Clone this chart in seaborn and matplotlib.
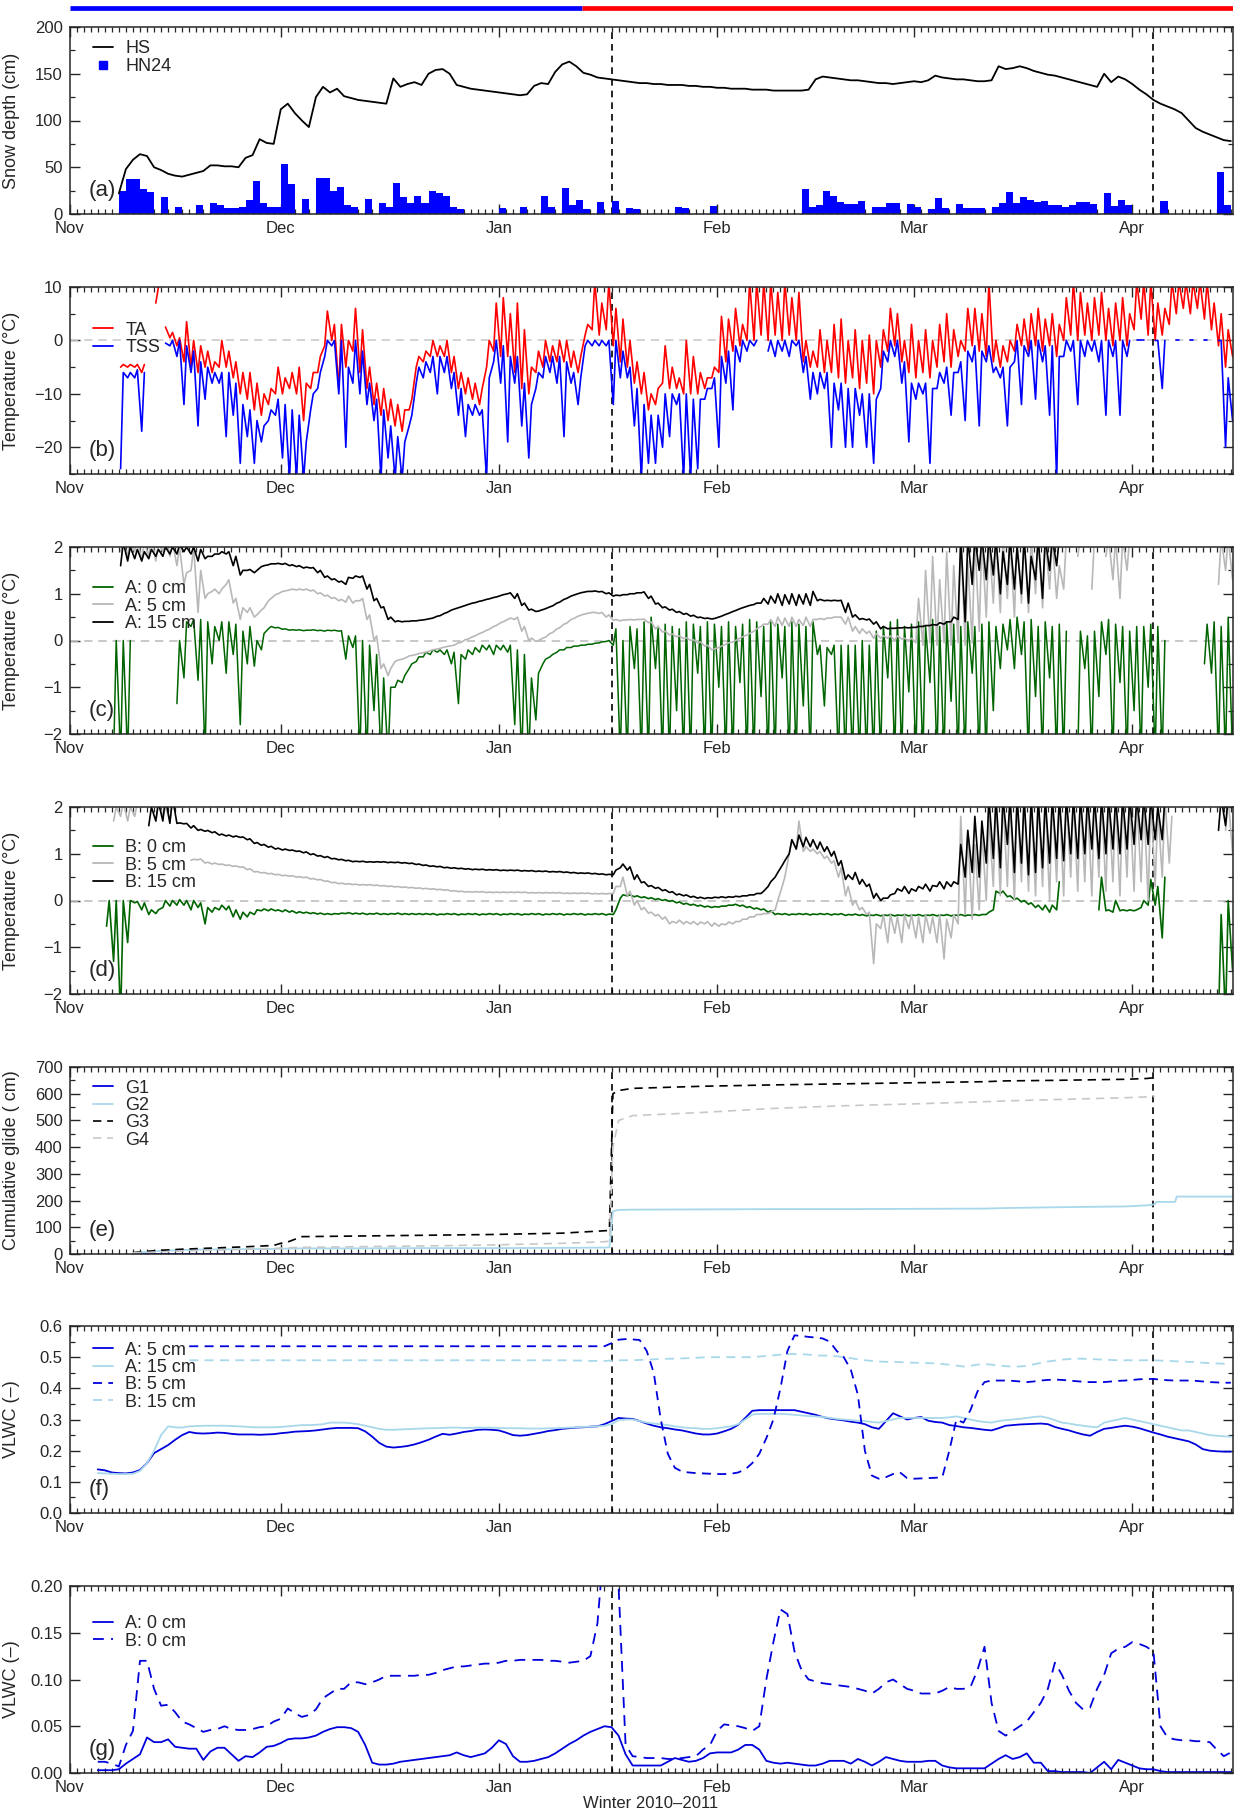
import numpy as np
import pandas as pd
import matplotlib
matplotlib.use('Agg')
import matplotlib.pyplot as plt
import matplotlib.dates as mdates
from matplotlib.ticker import MultipleLocator, FormatStrFormatter
from matplotlib.lines import Line2D
import seaborn as sns

n = np.nan

# daily values from 1 Nov 2010 (166 days, to 15 Apr 2011)
start = pd.Timestamp('2010-11-01')
days = start + pd.to_timedelta(np.arange(166), unit='D')

# top bar periods and the two marked dates
period_edges = ['2010-11-01 00:00', '2011-01-12 18:00', '2011-04-15 06:00']
period_colors = ['#0000ff', '#ff0000']
events = ['2011-01-17', '2011-04-04']

# (a) snow depth HS and 24 h new snow HN24 (cm)
hs = [n, n, n, n, n, n, n, 22, 48, 58,
      64, 62, 50, 47, 43, 41, 40, 42, 44, 46,
      52, 52, 51, 51, 50, 60, 63, 80, 76, 75,
      112, 118, 108, 100, 93, 125, 136, 130, 134, 126,
      124, 122, 121, 120, 119, 118, 145, 136, 139, 141,
      138, 150, 154, 155, 150, 138, 136, 134, 133, 132,
      131, 130, 129, 128, 127, 128, 137, 140, 139, 152,
      160, 163, 158, 151, 149, 146, 145, 144, 143, 142,
      141, 140, 140, 139, 139, 138, 138, 138, 137, 137,
      136, 136, 135, 135, 134, 134, 134, 133, 133, 133,
      132, 132, 132, 132, 132, 133, 144, 147, 146, 145,
      144, 143, 143, 142, 141, 140, 140, 139, 140, 141,
      142, 141, 143, 148, 146, 145, 144, 144, 143, 142,
      142, 143, 158, 155, 156, 158, 156, 153, 151, 149,
      148, 146, 144, 142, 140, 138, 136, 150, 141, 147,
      144, 139, 133, 128, 122, 118, 115, 112, 108, 100,
      92, 88, 85, 82, 79, 78]
hn24 = [0, 0, 0, 0, 0, 0, 0, 25, 37, 37,
        27, 23, 0, 18, 0, 8, 0, 0, 10, 0,
        12, 10, 6, 6, 7, 15, 35, 12, 8, 8,
        53, 32, 0, 16, 0, 38, 39, 25, 29, 10,
        8, 0, 16, 0, 12, 8, 33, 18, 12, 19,
        12, 25, 22, 19, 8, 5, 0, 0, 0, 0,
        0, 6, 0, 0, 7, 0, 0, 19, 8, 0,
        28, 10, 15, 5, 0, 13, 0, 14, 0, 6,
        5, 0, 0, 0, 0, 0, 8, 6, 0, 0,
        0, 9, 0, 0, 0, 0, 0, 0, 0, 0,
        0, 0, 0, 0, 27, 7, 10, 25, 19, 13,
        11, 11, 14, 0, 8, 7, 12, 12, 0, 11,
        8, 0, 5, 17, 6, 0, 11, 6, 6, 6,
        0, 8, 12, 24, 12, 18, 15, 13, 14, 10,
        10, 7, 10, 13, 13, 11, 0, 22, 9, 15,
        10, 0, 0, 0, 0, 14, 0, 0, 0, 0,
        0, 0, 0, 45, 10, 0]

# (b) air temperature TA and snow surface temperature TSS, daily low / high (degC)
ta_lo = [n, n, n, n, n, n, n, -5, -5, -5,
         -6, n, 7, n, 0.5, -1, -4, -5, -6, -5,
         -6, -5, -5, -7, -10, -11, -13, -14, -12, -10,
         -10, -9, -10, -15, -9, -6, -1, 0, -9, -5,
         -2, -6, -9, -12, -14, -15, -16, -17, -13, -5,
         -4, -3, -3, -3, -6, -9, -10, -11, -12, -5,
         -2, -3, -3, -6, -9, -10, -6, -5, -4, -4,
         -4, -5, -6, 1, 2, 1, 2, -1, -4, -5,
         -8, -10, -13, -12, -8, -9, -9, -10, -10, -10,
         -9, -7, -6, -4, -2, -1, 0, 0, 1, 0,
         1, 0, 1, 0, -4, -5, -5, -6, -6, -7,
         -8, -7, -9, -8, -10, -5, -2, -1, -4, -6,
         -7, -6, -7, -5, -4, -5, -3, -2, -1, -2,
         -3, -4, -5, -4, -2, -1, -2, -1, -2, -1,
         -3, 0, 1, 0, 1, 0, 1, 0, -1, 0,
         -1, 2, 4, 1, 0, 1, 3, 5, 6, 5,
         6, 4, 2, -1, -5, -3]
ta_hi = [n, n, n, n, n, n, n, -4.5, -4.5, -4.5,
         -4.5, n, 10, 2.5, 1.5, 0.5, 3.5, 0, -1, -2,
         -4, 0, -2, -4, -6, -6, -8, -10, -9, -5,
         -7, -6, -5, -8, -6, -3, 5.5, 3, 3, 0,
         6, 2, -5, -8, -9, -11, -12, -13, -11, -3,
         -2, 0, -1, 0, -3, -6, -7, -8, -9, 0,
         7, 8, 5, 7, 2, -5, -2, 0, -1, 0,
         0, -2, -3, 3, 11, 7, 11, 6, 4, 0,
         -4, -6, -10, -9, -1, -5, -7, 0, -3, -6,
         -7, -5, 4.5, 4, 6, 3, 11, 11, 11, 11,
         9, 11, 8, 9, 0, -2, 2, 0, 3, 4,
         0, 2, 0, 1, 0, 2, 6, 5, 0, 3,
         0, 2, 0, 3, 5, 2, 0, 6, 6, 5,
         11, 0, -1, 0, 3, 4, 5, 6, 4, 5,
         3, 8, 11, 9, 7, 8, 9, 6, 7, 8,
         5, 11, 11, 11, 7, 6, 11, 11, 11, 11,
         11, 11, 7, 5, 2, 0]
tss_lo = [n, n, n, n, n, n, n, -24, -7, -7,
          -17, n, n, n, -1, -3, -12, -6, -16, -11,
          -8, -8, -18, -14, -23, -18, -23, -19, -15, -14,
          -22, -26, -26, -26, -13, -9, -3, -1, -10, -20,
          -8, -10, -12, -15, -26, -22, -26, -26, -16, -8,
          -7, -6, -10, -6, -9, -14, -18, -14, -14, -26,
          -4, -8, -19, -8, -16, -22, -9, -7, -6, -8,
          -18, -8, -12, -1, -1, -1, -1, -12, -7, -7,
          -16, -26, -23, -23, -20, -18, -12, -26, -26, -24,
          -11, -9, -20, -8, -13, -4, -2, -1, n, -2,
          -3, -2, -3, -1, -6, -11, -10, -9, -20, -13,
          -20, -20, -14, -20, -23, -9, -4, -3, -8, -19,
          -11, -10, -23, -9, -8, -14, -6, -15, -4, -16,
          -4, -6, -7, -16, -4, -12, -3, -11, -4, -14,
          -26, -3, -2, -12, -3, -2, -4, -14, -3, -14,
          -3, n, 0, n, 0, -9, n, 0, n, 0,
          n, 0, n, 0, -20, -15]
tss_hi = [n, n, n, n, n, n, n, -6, -6, -5.5,
          -6, n, n, -0.5, 0, 0, -1, -2, -4, -5,
          -6, -6, -6, -8, -12, -13, -15, -16, -13, -11,
          -12, -13, -14, -19, -10, -6, 0, 0, 0, -5,
          0, -2, -8, -11, -13, -16, -18, -19, -14, -5,
          -4, -3, -3, -3, -6, -9, -12, -12, -13, -7,
          0, -1, -3, -3, -8, -12, -6, -3, -3, -3,
          -4, -6, -7, 0, 0, 0, 0, 0, -2, -5,
          -9, -12, -14, -14, -10, -10, -10, -10, -11, -11,
          -9, -7, -3, -2, -1, 0, 0, 0, n, 0,
          0, 0, 0, 0, -3, -6, -6, -6, -8, -8,
          -9, -9, -10, -10, -11, -2, 0, 0, -4, -8,
          -8, -8, -9, -6, -5, -6, -4, -2, -1, -2,
          -1, -5, -5, -5, 0, -1, 0, 0, -1, -1,
          -3, 0, 0, 0, 0, 0, 0, 0, 0, 0,
          0, 0, 0, n, 0, 0, n, 0, n, 0,
          n, 0, n, 0, -7, -5]

# (c) ground temperatures at site A, daily low / high (degC)
a0_lo = [n, n, n, n, n, n, -2.5, -2.5, -2.5, n,
         n, n, n, n, n, -1.35, -0.8, 0.3, -0.85, -2.5,
         -0.5, 0, -0.7, -0.3, -1.8, -0.5, -0.55, -0.2, 0.25, 0.27,
         0.24, 0.22, 0.22, 0.21, 0.22, 0.21, 0.2, 0.21, 0.2, -0.4,
         -0.15, -2.5, -2.5, -1.5, -2.5, -2.5, -1.0, -0.9, -0.6, -0.45,
         -0.35, -0.3, -0.25, -0.3, -0.5, -1.35, -0.4, -0.3, -0.25, -0.2,
         -0.3, -0.2, -0.25, -1.8, -2.5, -2.5, -1.7, -0.5, -0.35, -0.25,
         -0.2, -0.15, -0.12, -0.1, -0.08, -0.05, -0.02, -0.1, -2.5, -2.5,
         -0.6, -2.5, -2.5, -0.6, -2.5, -2.5, -1.5, -2.5, -2.5, -0.7,
         -2.5, -2.5, -1.0, -2.5, -2.5, -0.9, -2.5, -2.5, -1.2, -2.5,
         -2.5, -0.8, -2.5, -2.5, -1.4, -2.5, -0.3, -1.4, -0.3, -2.5,
         -2.5, -2.5, -2.5, -2.5, -2.5, -2.5, -0.8, -2.5, -2.5, -1.1,
         -2.5, -2.5, -0.9, -2.5, -2.5, -1.3, -2.5, -2.5, -0.7, -2.5,
         -2.5, -1.5, -0.6, -0.2, -0.6, -0.3, -2.5, -1.2, -2.5, -0.8,
         -2.5, -2.5, n, -2.5, -0.6, -2.5, -1.2, -0.3, -2.5, -0.9,
         -2.5, -1.5, -2.5, -1.0, -2.5, -2.5, n, n, n, n,
         n, -0.5, -0.7, -2.5, -2.5, -2.5]
a0_hi = [n, n, n, n, n, n, 0, 0, 0, n,
         n, n, n, n, n, 0, 0.4, 0.45, 0.45, 0.4,
         0.3, 0.4, 0.4, 0.35, 0.2, 0.3, 0, 0.15, 0.3, 0.28,
         0.25, 0.23, 0.23, 0.22, 0.23, 0.22, 0.22, 0.22, 0.21, 0.1,
         0.1, 0.0, -0.1, -0.3, -0.8, -1.0, -0.85, -0.75, -0.5, -0.35,
         -0.25, -0.2, -0.2, -0.2, -0.25, -0.3, -0.2, -0.15, -0.1, -0.1,
         -0.1, -0.1, -0.1, -0.2, -0.3, -0.8, -0.7, -0.4, -0.3, -0.2,
         -0.15, -0.12, -0.1, -0.08, -0.06, -0.03, 0.0, 0.25, 0.0, 0.3,
         0.25, 0.4, 0.5, 0.3, 0.35, 0.3, 0.25, 0.4, 0.35, 0.3,
         0.4, 0.35, 0.3, 0.4, 0.3, 0.35, 0.45, 0.4, 0.3, 0.4,
         0.35, 0.3, 0.4, 0.35, 0.3, 0.4, -0.1, -0.15, -0.1, -0.1,
         -0.1, -0.1, 0.0, -0.1, 0.2, 0.3, 0.4, 0.45, 0.3, 0.35,
         0.4, 0.3, 0.45, 0.3, 0.4, 0.35, 0.3, 0.4, 0.3, 0.35,
         0.4, 0.3, 0.35, 0.45, 0.5, 0.4, 0.45, 0.3, 0.4, 0.3,
         0.35, 0.2, n, 0.2, 0.1, 0.2, 0.4, 0.45, 0.35, 0.3,
         0.2, 0.3, 0.3, 0.35, 0.3, 0.0, n, n, n, n,
         n, 0.35, 0.4, 0.3, 0.5, 0.5]
a5_lo = [n, n, n, n, n, n, n, 1.9, 1.8, 1.9,
         1.7, 1.8, 1.7, 1.9, 1.8, 1.6, 1.2, 1.5, 0.6, 0.9,
         1.05, 1.0, 1.2, 0.8, 0.45, 0.6, 0.5, 0.65, 0.85, 0.98,
         1.05, 1.08, 1.08, 1.08, 1.06, 1.0, 0.95, 0.9, 0.85, 0.82,
         0.8, 0.85, 0.45, 0.0, -0.6, -0.75, -0.45, -0.4, -0.33, -0.3,
         -0.26, -0.22, -0.18, -0.14, -0.11, -0.05, 0.02, 0.08, 0.15, 0.22,
         0.3, 0.38, 0.45, 0.45, 0.2, 0.0, -0.02, 0.05, 0.15, 0.25,
         0.35, 0.45, 0.52, 0.57, 0.6, 0.58, 0.5, 0.43, 0.42, 0.44,
         0.44, 0.45, 0.38, 0.25, 0.18, 0.12, 0.08, 0.04, 0.0, -0.05,
         -0.12, -0.2, -0.15, -0.08, -0.03, 0.05, 0.12, 0.2, 0.3, 0.35,
         0.3, 0.32, 0.3, 0.3, 0.32, 0.3, 0.45, 0.45, 0.48, 0.5,
         0.35, 0.2, 0.15, 0.15, 0.05, 0.05, 0.05, 0.0, 0.03, 0.0,
         -0.05, -0.1, -0.05, -0.1, -0.05, -0.1, -0.05, -0.1, -0.05, 0.2,
         0.5, 0.8, 0.6, 0.9, 0.5, 0.8, 0.6, 1.0, 0.7, 1.1,
         0.9, 1.1, n, 1.8, n, 1.1, n, 1.8, 1.3, 0.9,
         1.5, n, n, n, n, n, n, n, n, n,
         n, n, n, 1.2, 1.5, 1.3]
a5_hi = [n, n, n, n, n, n, n, 2.1, 2.1, 2.2,
         2.1, 2.2, 2.1, 2.2, 2.1, 2.0, 1.45, 2.0, 1.5, 1.0,
         1.1, 1.1, 1.3, 0.9, 0.7, 0.7, 0.55, 0.7, 0.9, 1.0,
         1.06, 1.1, 1.1, 1.1, 1.08, 1.02, 0.97, 0.92, 0.88, 0.95,
         0.85, 0.9, 0.55, 0.1, -0.5, -0.6, -0.42, -0.38, -0.32, -0.28,
         -0.25, -0.2, -0.17, -0.13, -0.1, -0.04, 0.03, 0.1, 0.17, 0.24,
         0.32, 0.4, 0.48, 0.5, 0.3, 0.05, 0.0, 0.07, 0.17, 0.27,
         0.37, 0.47, 0.54, 0.58, 0.6, 0.6, 0.55, 0.45, 0.44, 0.45,
         0.45, 0.46, 0.4, 0.3, 0.2, 0.14, 0.1, 0.06, 0.02, -0.03,
         -0.1, -0.18, -0.12, -0.05, 0.0, 0.08, 0.15, 0.25, 0.35, 0.45,
         0.5, 0.48, 0.5, 0.45, 0.5, 0.45, 0.47, 0.48, 0.5, 0.5,
         0.5, 0.3, 0.25, 0.2, 0.15, 0.1, 0.1, 0.1, 0.05, 0.05,
         0.9, 1.5, 1.8, 1.3, 1.9, 1.6, 2.2, 1.7, 2.2, 2.2,
         2.2, 2.2, 2.2, 2.2, 2.2, 2.2, 2.2, 2.2, 2.2, 2.2,
         1.6, 2.2, n, 2.2, n, 2.2, n, 2.2, 2.2, 2.2,
         2.2, n, n, n, n, n, n, n, n, n,
         n, n, n, 2.2, 2.2, 2.2]
a15_lo = [n, n, n, n, n, n, n, 1.6, 1.7, 1.75,
          1.7, 1.75, 1.8, 1.8, 1.85, 1.85, 1.9, 1.85, 1.7, 1.75,
          1.8, 1.85, 1.85, 1.6, 1.4, 1.5, 1.45, 1.58, 1.62, 1.64,
          1.63, 1.6, 1.58, 1.55, 1.55, 1.45, 1.35, 1.3, 1.25, 1.2,
          1.33, 1.35, 1.1, 0.85, 0.7, 0.45, 0.4, 0.4, 0.41, 0.42,
          0.44, 0.47, 0.52, 0.58, 0.65, 0.7, 0.75, 0.8, 0.84, 0.88,
          0.92, 0.96, 1.0, 0.9, 0.75, 0.65, 0.62, 0.66, 0.72, 0.8,
          0.88, 0.95, 1.0, 1.04, 1.05, 1.04, 1.0, 0.95, 0.96, 0.98,
          1.0, 1.02, 0.9, 0.78, 0.7, 0.65, 0.6, 0.56, 0.52, 0.49,
          0.47, 0.46, 0.5, 0.56, 0.62, 0.68, 0.73, 0.77, 0.8, 0.78,
          0.8, 0.75, 0.78, 0.75, 0.78, 0.75, 0.85, 0.85, 0.85, 0.85,
          0.6, 0.5, 0.45, 0.44, 0.35, 0.25, 0.25, 0.26, 0.27, 0.27,
          0.28, 0.3, 0.32, 0.33, 0.35, 0.4, 0.45, 0.4, 1.2, 1.5,
          1.3, 1.4, 1.0, 1.2, 1.1, 1.0, 0.8, 1.3, 0.9, 1.5,
          1.6, n, n, n, n, n, n, n, n, n,
          n, n, n, n, n, n, n, n, n, n,
          n, n, n, n, n, n]
a15_hi = [n, n, n, n, n, n, n, 2.1, 2.0, 1.95,
          1.9, 1.95, 1.95, 2.0, 2.0, 2.05, 2.0, 2.0, 1.95, 1.8,
          1.85, 1.9, 1.9, 1.8, 1.5, 1.52, 1.5, 1.6, 1.64, 1.65,
          1.65, 1.62, 1.6, 1.57, 1.56, 1.5, 1.38, 1.32, 1.27, 1.35,
          1.38, 1.38, 1.2, 0.9, 0.72, 0.5, 0.42, 0.41, 0.42, 0.43,
          0.45, 0.48, 0.53, 0.6, 0.67, 0.72, 0.77, 0.81, 0.85, 0.89,
          0.93, 0.98, 1.02, 1.0, 0.8, 0.67, 0.63, 0.68, 0.74, 0.82,
          0.9, 0.97, 1.02, 1.05, 1.06, 1.05, 1.02, 0.97, 0.98, 1.0,
          1.02, 1.04, 0.95, 0.8, 0.72, 0.67, 0.62, 0.58, 0.54, 0.5,
          0.48, 0.47, 0.52, 0.58, 0.64, 0.7, 0.75, 0.8, 0.9, 0.95,
          1.0, 0.98, 1.0, 0.98, 1.0, 1.05, 0.88, 0.86, 0.86, 0.86,
          0.8, 0.55, 0.47, 0.46, 0.4, 0.3, 0.26, 0.27, 0.28, 0.28,
          0.3, 0.32, 0.34, 0.38, 0.4, 0.5, 2.2, 2.2, 2.2, 2.2,
          2.2, 2.2, 1.9, 2.2, 2.0, 2.2, 1.8, 2.2, 2.2, 2.2,
          2.2, n, n, n, n, n, n, n, n, n,
          n, n, n, n, n, n, n, n, n, n,
          n, n, n, n, n, n]

# (d) ground temperatures at site B, daily low / high (degC)
b0_lo = [n, n, n, n, n, -0.55, -1.3, -2.5, -0.9, -0.05,
         -0.2, -0.3, -0.28, -0.15, -0.12, -0.1, -0.1, -0.2, -0.15, -0.5,
         -0.25, -0.2, -0.2, -0.35, -0.4, -0.35, -0.3, -0.22, -0.22, -0.22,
         -0.24, -0.25, -0.27, -0.27, -0.28, -0.29, -0.3, -0.3, -0.29, -0.28,
         -0.29, -0.29, -0.3, -0.29, -0.3, -0.3, -0.29, -0.3, -0.3, -0.3,
         -0.3, -0.3, -0.31, -0.3, -0.3, -0.31, -0.3, -0.3, -0.31, -0.3,
         -0.3, -0.31, -0.3, -0.3, -0.31, -0.3, -0.3, -0.31, -0.3, -0.3,
         -0.31, -0.3, -0.3, -0.31, -0.3, -0.3, -0.31, -0.3, 0.05, 0.1,
         0.08, 0.06, 0.04, 0.02, 0.0, -0.02, -0.05, -0.08, -0.1, -0.12,
         -0.14, -0.15, -0.14, -0.12, -0.1, -0.12, -0.15, -0.18, -0.2, -0.25,
         -0.3, -0.3, -0.31, -0.3, -0.3, -0.31, -0.3, -0.3, -0.31, -0.3,
         -0.32, -0.31, -0.32, -0.33, -0.32, -0.33, -0.32, -0.33, -0.32, -0.33,
         -0.32, -0.33, -0.32, -0.33, -0.32, -0.33, -0.32, -0.33, -0.32, -0.32,
         -0.3, -0.2, 0.15, 0.08, 0.02, -0.03, -0.08, -0.15, -0.2, -0.25,
         -0.2, n, n, n, n, n, -0.2, -0.22, -0.25, -0.22,
         -0.22, -0.22, -0.15, -0.1, -0.1, -0.8, n, n, n, n,
         n, n, n, -2.5, -2.5, -1.5]
b0_hi = [n, n, n, n, n, 0.0, 0.0, 0.0, 0.0, -0.02,
         -0.05, -0.2, -0.2, 0.0, 0.0, 0.02, 0.0, 0.0, -0.05, -0.15,
         -0.15, -0.1, -0.12, -0.2, -0.25, -0.25, -0.2, -0.18, -0.18, -0.2,
         -0.2, -0.22, -0.24, -0.25, -0.26, -0.27, -0.28, -0.28, -0.27, -0.26,
         -0.27, -0.27, -0.28, -0.27, -0.28, -0.28, -0.27, -0.28, -0.28, -0.28,
         -0.28, -0.28, -0.29, -0.28, -0.28, -0.29, -0.28, -0.28, -0.29, -0.28,
         -0.28, -0.29, -0.28, -0.28, -0.29, -0.28, -0.28, -0.29, -0.28, -0.28,
         -0.29, -0.28, -0.28, -0.29, -0.28, -0.28, -0.29, -0.2, 0.12, 0.12,
         0.1, 0.08, 0.06, 0.04, 0.02, 0.0, -0.03, -0.06, -0.08, -0.1,
         -0.12, -0.13, -0.12, -0.1, -0.08, -0.1, -0.13, -0.16, -0.18, -0.22,
         -0.28, -0.28, -0.29, -0.28, -0.28, -0.29, -0.28, -0.28, -0.29, -0.28,
         -0.3, -0.29, -0.3, -0.31, -0.3, -0.31, -0.3, -0.31, -0.3, -0.31,
         -0.3, -0.31, -0.3, -0.31, -0.3, -0.31, -0.3, -0.31, -0.3, -0.3,
         -0.25, 0.2, 0.2, 0.1, 0.05, 0.0, -0.05, -0.1, -0.1, -0.1,
         0.4, n, n, n, n, n, 0.5, -0.2, 0.0, -0.2,
         -0.2, -0.2, 0.0, 0.45, 0.3, 0.5, n, n, n, n,
         n, n, n, -0.3, 0.0, 0.0]
b5_lo = [n, n, n, n, n, n, 1.7, 1.8, 1.7, 1.8,
         n, n, 1.7, 1.8, 1.7, n, n, 0.86, 0.87, 0.8,
         0.78, 0.77, 0.75, 0.73, 0.71, 0.66, 0.61, 0.59, 0.57, 0.55,
         0.53, 0.52, 0.5, 0.49, 0.46, 0.44, 0.41, 0.38, 0.36, 0.35,
         0.34, 0.33, 0.33, 0.32, 0.31, 0.3, 0.29, 0.28, 0.27, 0.26,
         0.25, 0.24, 0.23, 0.22, 0.2, 0.19, 0.18, 0.18, 0.18, 0.17,
         0.17, 0.17, 0.17, 0.17, 0.17, 0.16, 0.16, 0.16, 0.16, 0.16,
         0.15, 0.15, 0.15, 0.15, 0.14, 0.14, 0.14, 0.15, 0.3, 0.1,
         -0.1, -0.2, -0.27, -0.33, -0.4, -0.5, -0.48, -0.5, -0.5, -0.52,
         -0.5, -0.55, -0.55, -0.52, -0.5, -0.45, -0.4, -0.35, -0.3, -0.28,
         -0.2, 0.3, 1.0, 1.1, 1.05, 1.05, 1.0, 0.9, 0.8, 0.5,
         0.1, -0.1, -0.2, -0.3, -1.35, -0.6, -0.9, -0.7, -0.9, -0.6,
         -0.8, -0.9, -0.7, -0.9, -1.25, -0.8, -0.5, -0.3, -0.4, -0.2,
         0.0, 0.3, 0.1, 0.3, 0.0, 0.4, 0.2, 0.1, 0.3, 0.0,
         0.4, 0.1, 0.5, 0.2, 0.4, 0.1, 0.5, 0.2, 0.4, 0.1,
         0.5, 0.2, 0.4, 0.0, 0.3, 0.5, 0.8, n, n, n,
         n, n, n, n, 1.5, 1.0]
b5_hi = [n, n, n, n, n, n, 2.0, 2.1, 2.0, 2.1,
         n, n, 2.1, 2.0, 2.1, n, n, 0.88, 0.89, 0.82,
         0.8, 0.78, 0.76, 0.74, 0.72, 0.68, 0.62, 0.6, 0.58, 0.56,
         0.54, 0.53, 0.51, 0.5, 0.47, 0.45, 0.42, 0.39, 0.37, 0.36,
         0.35, 0.34, 0.34, 0.33, 0.32, 0.31, 0.3, 0.29, 0.28, 0.27,
         0.26, 0.25, 0.24, 0.23, 0.21, 0.2, 0.19, 0.19, 0.19, 0.18,
         0.18, 0.18, 0.18, 0.18, 0.18, 0.17, 0.17, 0.17, 0.17, 0.17,
         0.16, 0.16, 0.16, 0.16, 0.15, 0.15, 0.15, 0.3, 0.5, 0.2,
         0.0, -0.15, -0.25, -0.3, -0.35, -0.45, -0.42, -0.45, -0.45, -0.46,
         -0.45, -0.48, -0.5, -0.46, -0.45, -0.4, -0.35, -0.3, -0.28, -0.25,
         0.0, 0.5, 1.3, 1.7, 1.15, 1.1, 1.05, 0.95, 0.85, 0.7,
         0.3, 0.0, -0.15, -0.25, -0.5, -0.3, -0.3, -0.35, -0.3, -0.3,
         -0.35, -0.3, -0.35, -0.3, -0.4, -0.3, 1.8, 1.5, 1.2, 1.5,
         1.8, 2.2, 2.2, 2.2, 2.2, 2.2, 2.2, 2.2, 2.2, 2.2,
         2.2, 2.2, 2.2, 2.2, 2.2, 2.2, 2.2, 2.2, 2.2, 2.2,
         2.2, 2.2, 2.2, 2.2, 2.0, 2.2, 1.8, n, n, n,
         n, n, n, n, 2.2, 2.2]
b15_lo = [n, n, n, n, n, n, n, n, n, n,
          n, 1.6, 1.7, 1.7, 1.65, 1.65, 1.64, 1.55, 1.5, 1.48,
          1.45, 1.4, 1.38, 1.36, 1.35, 1.3, 1.22, 1.18, 1.14, 1.1,
          1.08, 1.07, 1.05, 1.02, 0.98, 0.95, 0.92, 0.89, 0.87, 0.85,
          0.83, 0.83, 0.82, 0.82, 0.82, 0.81, 0.81, 0.8, 0.79, 0.77,
          0.75, 0.73, 0.72, 0.7, 0.69, 0.68, 0.67, 0.66, 0.66, 0.65,
          0.65, 0.64, 0.64, 0.64, 0.63, 0.63, 0.62, 0.62, 0.61, 0.61,
          0.6, 0.59, 0.58, 0.58, 0.57, 0.56, 0.55, 0.55, 0.7, 0.65,
          0.45, 0.38, 0.3, 0.26, 0.21, 0.17, 0.12, 0.1, 0.07, 0.05,
          0.04, 0.05, 0.06, 0.06, 0.07, 0.08, 0.1, 0.12, 0.15, 0.3,
          0.5, 0.75, 1.0, 1.1, 1.15, 1.15, 1.1, 1.05, 0.95, 0.75,
          0.45, 0.45, 0.35, 0.3, 0.05, 0.0, 0.05, 0.15, 0.2, 0.15,
          0.2, 0.25, 0.2, 0.3, 0.25, 0.3, 0.35, 0.5, 0.6, 0.5,
          0.8, 0.9, 0.7, 1.2, 0.6, 0.8, 0.55, 0.6, 0.7, 0.8,
          0.9, 0.85, 1.0, 0.9, 1.0, 1.1, 0.9, 1.0, 1.1, 1.0,
          1.1, 1.2, 1.3, 1.2, 1.3, 1.3, n, n, n, n,
          n, n, n, 1.5, 1.6, n]
b15_hi = [n, n, n, n, n, n, n, n, n, n,
          n, 2.0, 2.1, 2.2, 2.2, 1.66, 1.65, 1.6, 1.52, 1.5,
          1.47, 1.42, 1.4, 1.38, 1.36, 1.32, 1.24, 1.2, 1.16, 1.12,
          1.1, 1.08, 1.06, 1.04, 1.0, 0.96, 0.94, 0.9, 0.88, 0.86,
          0.84, 0.84, 0.83, 0.83, 0.83, 0.82, 0.82, 0.81, 0.8, 0.78,
          0.76, 0.74, 0.73, 0.71, 0.7, 0.69, 0.68, 0.67, 0.67, 0.66,
          0.66, 0.65, 0.65, 0.65, 0.64, 0.64, 0.63, 0.63, 0.62, 0.62,
          0.61, 0.6, 0.59, 0.59, 0.58, 0.57, 0.56, 0.65, 0.78, 0.72,
          0.55, 0.4, 0.32, 0.28, 0.23, 0.19, 0.14, 0.12, 0.09, 0.07,
          0.06, 0.07, 0.08, 0.08, 0.09, 0.1, 0.12, 0.15, 0.2, 0.4,
          0.6, 0.85, 1.3, 1.4, 1.35, 1.3, 1.25, 1.15, 1.05, 0.85,
          0.55, 0.6, 0.45, 0.35, 0.15, 0.05, 0.12, 0.25, 0.3, 0.25,
          0.3, 0.35, 0.32, 0.4, 0.4, 0.4, 1.2, 1.5, 1.8, 1.7,
          2.2, 2.2, 2.2, 2.2, 2.2, 2.2, 2.2, 2.2, 2.2, 2.2,
          2.2, 2.2, 2.2, 2.2, 2.2, 2.2, 2.2, 2.2, 2.2, 2.2,
          2.2, 2.2, 2.2, 2.2, 2.0, 2.2, n, n, n, n,
          n, n, n, 2.2, 2.2, n]

# (e) cumulative glide (cm), read at these days after 1 Nov
glide_days = [9, 11, 13, 16, 20, 25, 29, 30, 31, 32,
              33, 40, 50, 60, 70, 76, 76.7, 77.2, 78, 80,
              90, 100, 110, 120, 130, 133, 140, 150, 153, 154.2,
              154.4, 157.1, 157.3, 165.3]
g1 = [0, 0, 0, 0, 0, 0, 0, 0, 0, 0,
      0, 0, 0, 0, 0, 0, 0, 0, 0, 0,
      0, 0, 0, 0, 0, 0, 0, 0, 0, 0,
      0, 0, 0, 0]
g2 = [3, 8, 12, 15, 17, 18, 19, 20, 20, 21,
      21, 21, 22, 22, 23, 24, 25, 160, 165, 166,
      167, 168, 168, 169, 170, 172, 175, 178, 182, 186,
      195, 195, 215, 215]
g3 = [5, 10, 14, 18, 22, 27, 32, 40, 45, 55,
      65, 67, 70, 73, 78, 87, 88, 600, 612, 620,
      628, 633, 637, 641, 645, 648, 650, 654, 657, 660,
      n, n, n, n]
g4 = [4, 6, 8, 11, 14, 18, 21, 22, 23, 24,
      25, 27, 30, 34, 40, 46, 48, 400, 500, 518,
      530, 545, 555, 562, 570, 573, 578, 585, 588, 590,
      n, n, n, n]

# (f) VLWC at 5 and 15 cm, sites A and B (daily)
fa5 = [n, n, n, n, 0.14, 0.137, 0.13, 0.128, 0.127, 0.13,
       0.138, 0.16, 0.192, 0.205, 0.218, 0.235, 0.25, 0.26, 0.256, 0.255,
       0.256, 0.258, 0.257, 0.254, 0.252, 0.252, 0.252, 0.251, 0.252, 0.253,
       0.256, 0.258, 0.261, 0.262, 0.263, 0.265, 0.268, 0.271, 0.273, 0.273,
       0.273, 0.272, 0.262, 0.245, 0.225, 0.213, 0.21, 0.212, 0.215, 0.22,
       0.227, 0.235, 0.245, 0.254, 0.251, 0.255, 0.26, 0.263, 0.267, 0.268,
       0.267, 0.265, 0.258, 0.25, 0.248, 0.25, 0.254, 0.258, 0.263, 0.266,
       0.27, 0.272, 0.274, 0.275, 0.277, 0.278, 0.285, 0.295, 0.305, 0.303,
       0.302, 0.295, 0.287, 0.28, 0.275, 0.272, 0.268, 0.265, 0.26, 0.255,
       0.252, 0.252, 0.255, 0.262, 0.27, 0.283, 0.305, 0.328, 0.33, 0.33,
       0.33, 0.33, 0.33, 0.33, 0.325, 0.32, 0.315, 0.308, 0.303, 0.3,
       0.297, 0.293, 0.29, 0.285, 0.275, 0.27, 0.295, 0.32, 0.31, 0.3,
       0.305, 0.308, 0.296, 0.292, 0.29, 0.282, 0.279, 0.275, 0.273, 0.27,
       0.267, 0.265, 0.272, 0.28, 0.282, 0.284, 0.285, 0.286, 0.287, 0.285,
       0.276, 0.27, 0.265, 0.258, 0.252, 0.248, 0.26, 0.27, 0.273, 0.277,
       0.28, 0.277, 0.272, 0.265, 0.258, 0.252, 0.245, 0.24, 0.235, 0.23,
       0.22, 0.205, 0.2, 0.198, 0.197, 0.197]
fa15 = [n, n, n, n, 0.128, 0.127, 0.126, 0.125, 0.125, 0.126,
        0.135, 0.16, 0.2, 0.25, 0.278, 0.275, 0.274, 0.278, 0.279, 0.28,
        0.28, 0.28, 0.28, 0.279, 0.278, 0.277, 0.275, 0.275, 0.275, 0.275,
        0.276, 0.278, 0.28, 0.282, 0.282, 0.283, 0.285, 0.29, 0.29, 0.29,
        0.288, 0.285, 0.28, 0.275, 0.27, 0.267, 0.267, 0.268, 0.269, 0.27,
        0.271, 0.272, 0.272, 0.273, 0.274, 0.274, 0.273, 0.273, 0.274, 0.274,
        0.274, 0.273, 0.272, 0.272, 0.272, 0.271, 0.271, 0.271, 0.272, 0.272,
        0.273, 0.274, 0.275, 0.276, 0.277, 0.278, 0.28, 0.285, 0.298, 0.3,
        0.3, 0.295, 0.29, 0.287, 0.285, 0.282, 0.278, 0.275, 0.273, 0.272,
        0.27, 0.27, 0.272, 0.275, 0.278, 0.285, 0.3, 0.316, 0.318, 0.318,
        0.318, 0.318, 0.317, 0.315, 0.313, 0.311, 0.31, 0.308, 0.305, 0.302,
        0.3, 0.298, 0.296, 0.295, 0.292, 0.29, 0.295, 0.3, 0.305, 0.305,
        0.305, 0.305, 0.305, 0.305, 0.305, 0.307, 0.31, 0.305, 0.3, 0.295,
        0.292, 0.29, 0.295, 0.298, 0.3, 0.302, 0.305, 0.308, 0.31, 0.305,
        0.298, 0.29, 0.287, 0.283, 0.28, 0.277, 0.275, 0.29, 0.295, 0.3,
        0.305, 0.3, 0.295, 0.29, 0.285, 0.28, 0.275, 0.27, 0.265, 0.265,
        0.26, 0.255, 0.25, 0.248, 0.246, 0.245]
fb5 = [n, n, n, n, n, n, n, n, n, n,
       n, n, n, n, n, n, n, 0.535, 0.535, 0.535,
       0.535, 0.535, 0.535, 0.535, 0.535, 0.535, 0.535, 0.535, 0.535, 0.535,
       0.535, 0.535, 0.535, 0.535, 0.535, 0.535, 0.535, 0.535, 0.535, 0.535,
       0.535, 0.535, 0.535, 0.535, 0.535, 0.535, 0.535, 0.535, 0.535, 0.535,
       0.535, 0.535, 0.535, 0.535, 0.535, 0.535, 0.535, 0.535, 0.535, 0.535,
       0.535, 0.535, 0.535, 0.535, 0.535, 0.535, 0.535, 0.535, 0.535, 0.535,
       0.535, 0.535, 0.535, 0.535, 0.535, 0.535, 0.535, 0.545, 0.556, 0.558,
       0.557, 0.555, 0.52, 0.45, 0.3, 0.19, 0.145, 0.133, 0.13, 0.128,
       0.127, 0.126, 0.125, 0.125, 0.126, 0.13, 0.14, 0.16, 0.19, 0.24,
       0.3, 0.4, 0.52, 0.57, 0.568, 0.565, 0.563, 0.56, 0.55, 0.52,
       0.5, 0.46, 0.38, 0.2, 0.12, 0.11, 0.115, 0.125, 0.13, 0.112,
       0.11, 0.111, 0.112, 0.113, 0.115, 0.2, 0.3, 0.29, 0.33, 0.39,
       0.42, 0.425, 0.425, 0.425, 0.424, 0.422, 0.42, 0.422, 0.425, 0.427,
       0.428, 0.427, 0.425, 0.423, 0.421, 0.42, 0.42, 0.42, 0.422, 0.424,
       0.425, 0.427, 0.429, 0.43, 0.43, 0.428, 0.426, 0.425, 0.425, 0.425,
       0.424, 0.422, 0.42, 0.419, 0.418, 0.418]
fb15 = [n, n, n, n, n, n, n, n, n, n,
        n, n, n, n, n, n, n, 0.49, 0.49, 0.49,
        0.49, 0.49, 0.49, 0.49, 0.49, 0.49, 0.49, 0.49, 0.49, 0.49,
        0.49, 0.49, 0.49, 0.49, 0.49, 0.49, 0.49, 0.49, 0.49, 0.49,
        0.49, 0.49, 0.49, 0.49, 0.49, 0.49, 0.49, 0.49, 0.49, 0.49,
        0.49, 0.49, 0.49, 0.49, 0.49, 0.49, 0.49, 0.49, 0.49, 0.49,
        0.49, 0.49, 0.49, 0.49, 0.49, 0.49, 0.49, 0.49, 0.49, 0.49,
        0.49, 0.49, 0.489, 0.489, 0.488, 0.488, 0.488, 0.489, 0.49, 0.49,
        0.49, 0.491, 0.492, 0.493, 0.494, 0.495, 0.495, 0.496, 0.497, 0.498,
        0.499, 0.5, 0.5, 0.5, 0.5, 0.5, 0.5, 0.5, 0.502, 0.504,
        0.506, 0.508, 0.51, 0.51, 0.51, 0.508, 0.506, 0.505, 0.505, 0.503,
        0.5, 0.497, 0.493, 0.49, 0.488, 0.486, 0.485, 0.485, 0.484, 0.483,
        0.482, 0.482, 0.481, 0.48, 0.478, 0.476, 0.473, 0.47, 0.472, 0.476,
        0.478, 0.476, 0.473, 0.471, 0.47, 0.47, 0.472, 0.477, 0.482, 0.486,
        0.489, 0.492, 0.494, 0.495, 0.495, 0.494, 0.493, 0.492, 0.491, 0.49,
        0.49, 0.49, 0.49, 0.49, 0.49, 0.489, 0.488, 0.487, 0.486, 0.485,
        0.484, 0.482, 0.481, 0.48, 0.479, 0.478]

# (g) VLWC at 0 cm, sites A and B (daily)
ga0 = [n, n, n, n, 0.003, 0.003, 0.003, 0.004, 0.01, 0.015,
       0.02, 0.038, 0.033, 0.033, 0.036, 0.028, 0.027, 0.026, 0.026, 0.014,
       0.023, 0.027, 0.027, 0.02, 0.013, 0.018, 0.017, 0.022, 0.028, 0.029,
       0.032, 0.036, 0.037, 0.037, 0.038, 0.04, 0.044, 0.047, 0.049, 0.049,
       0.048, 0.044, 0.03, 0.011, 0.009, 0.009, 0.01, 0.012, 0.013, 0.014,
       0.015, 0.016, 0.017, 0.018, 0.019, 0.022, 0.019, 0.017, 0.019, 0.021,
       0.027, 0.035, 0.031, 0.018, 0.012, 0.012, 0.013, 0.015, 0.017, 0.021,
       0.026, 0.031, 0.035, 0.04, 0.044, 0.047, 0.05, 0.049, 0.04, 0.02,
       0.008, 0.008, 0.008, 0.008, 0.008, 0.012, 0.016, 0.014, 0.012, 0.013,
       0.016, 0.021, 0.022, 0.022, 0.022, 0.025, 0.03, 0.03, 0.025, 0.013,
       0.011, 0.01, 0.011, 0.01, 0.009, 0.008, 0.008, 0.01, 0.013, 0.013,
       0.013, 0.01, 0.015, 0.012, 0.008, 0.012, 0.017, 0.015, 0.013, 0.012,
       0.012, 0.012, 0.013, 0.013, 0.008, 0.006, 0.005, 0.005, 0.005, 0.005,
       0.005, 0.01, 0.015, 0.019, 0.015, 0.017, 0.021, 0.011, 0.011, 0.002,
       0.002, 0.001, 0.001, 0.001, 0.001, 0.0, 0.006, 0.012, 0.004, 0.014,
       0.011, 0.008, 0.005, 0.004, 0.004, 0.002, 0.001, 0.001, 0.001, 0.001,
       0.001, 0.001, 0.001, 0.001, 0.001, 0.001]
gb0 = [n, n, n, n, 0.012, 0.012, 0.01, 0.007, 0.03, 0.045,
       0.12, 0.12, 0.09, 0.072, 0.073, 0.065, 0.055, 0.052, 0.048, 0.044,
       0.046, 0.047, 0.05, 0.047, 0.046, 0.046, 0.047, 0.049, 0.05, 0.055,
       0.058, 0.069, 0.064, 0.06, 0.062, 0.068, 0.08, 0.085, 0.09, 0.09,
       0.097, 0.097, 0.095, 0.097, 0.1, 0.104, 0.104, 0.104, 0.104, 0.104,
       0.105, 0.105, 0.107, 0.11, 0.112, 0.114, 0.114, 0.115, 0.116, 0.117,
       0.117, 0.118, 0.12, 0.12, 0.121, 0.121, 0.121, 0.121, 0.12, 0.12,
       0.119, 0.118, 0.119, 0.12, 0.125, 0.16, 0.25, 0.25, 0.2, 0.03,
       0.018, 0.017, 0.016, 0.016, 0.016, 0.015, 0.015, 0.016, 0.017, 0.018,
       0.025, 0.03, 0.045, 0.052, 0.051, 0.05, 0.048, 0.045, 0.05, 0.1,
       0.14, 0.175, 0.17, 0.13, 0.11, 0.1, 0.098, 0.096, 0.095, 0.094,
       0.093, 0.092, 0.09, 0.088, 0.085, 0.09, 0.097, 0.1, 0.095, 0.09,
       0.088, 0.085, 0.085, 0.085, 0.088, 0.092, 0.09, 0.09, 0.092, 0.11,
       0.135, 0.075, 0.045, 0.04, 0.045, 0.05, 0.055, 0.065, 0.075, 0.09,
       0.118, 0.105, 0.088, 0.075, 0.068, 0.07, 0.09, 0.105, 0.128, 0.133,
       0.135, 0.14, 0.138, 0.135, 0.13, 0.05, 0.038, 0.036, 0.035, 0.035,
       0.034, 0.034, 0.033, 0.025, 0.018, 0.022]


def half_daily(lo, hi):
    # each day gives a morning low and an afternoon high
    t = np.empty(2 * len(lo), dtype='datetime64[ns]')
    t[0::2] = (days + pd.Timedelta(hours=6)).values
    t[1::2] = (days + pd.Timedelta(hours=15)).values
    v = np.empty(2 * len(lo))
    v[0::2] = lo
    v[1::2] = hi
    return t, v


def draw(ax, t, v, color, lw=1.2, ls='-', z=2):
    d = pd.DataFrame({'t': pd.to_datetime(np.asarray(t)), 'v': np.asarray(v, dtype=float)})
    d['seg'] = d['v'].isna().cumsum()   # gaps in the record break the line
    d = d.dropna(subset=['v'])
    sns.lineplot(data=d, x='t', y='v', units='seg', estimator=None, sort=False, ax=ax,
                 color=color, linewidth=lw, linestyle=ls, zorder=z, legend=False)


sns.set_style('ticks')
plt.rcParams['font.family'] = ['Liberation Sans', 'DejaVu Sans']
plt.rcParams['axes.linewidth'] = 1.1

W_PX, H_PX = 1236, 1818
fig = plt.figure(figsize=(W_PX / 100, H_PX / 100), dpi=100)
left, width = 69.6 / W_PX, 1163 / W_PX
tops = [27, 287, 547, 807, 1067, 1326, 1586]
height = 187
axes = [fig.add_axes([left, 1 - (t + height) / H_PX, width, height / H_PX]) for t in tops]

xmin = start
xmax = start + pd.Timedelta(days=165.25)

DBLUE = '#0000dd'
LBLUE = '#a8d8ea'
GREEN = '#006400'
GREY = '#b8b8b8'
dash = (0, (5, 3.5))

# top period bar
topax = fig.add_axes([left, 1 - 13 / H_PX, width, 10 / H_PX])
edges = pd.to_datetime(period_edges, format='%Y-%m-%d %H:%M')
for i, c in enumerate(period_colors):
    topax.plot([edges[i], edges[i + 1]], [0, 0], color=c, lw=3.4, solid_capstyle='butt')
topax.set_xlim(xmin, xmax)
topax.set_ylim(-1, 1)
topax.axis('off')

# (a)
ax = axes[0]
ax.bar(days, hn24, width=1.0, align='edge', color='#0000ff', linewidth=0, zorder=2)
draw(ax, days, hs, 'black', lw=1.3, z=3)
ax.set_ylim(0, 200)
ax.yaxis.set_major_locator(MultipleLocator(50))
ax.yaxis.set_minor_locator(MultipleLocator(25))
hand_a = [Line2D([], [], color='black', lw=1.3),
          Line2D([], [], color='#0000ff', marker='s', ls='none', markersize=5.5)]
lab_a = ['HS', 'HN24']

# (b)
ax = axes[1]
ax.axhline(0, color='0.8', ls=dash, lw=1.2, zorder=1)
draw(ax, *half_daily(ta_lo, ta_hi), '#ff0000', lw=1.2)
draw(ax, *half_daily(tss_lo, tss_hi), '#0000ff', lw=1.2)
ax.set_ylim(-25, 10)
ax.yaxis.set_major_locator(MultipleLocator(10))
ax.yaxis.set_minor_locator(MultipleLocator(5))
hand_b = [Line2D([], [], color='#ff0000', lw=1.3), Line2D([], [], color='#0000ff', lw=1.3)]
lab_b = ['TA', 'TSS']

# (c)
ax = axes[2]
ax.axhline(0, color='0.75', ls=dash, lw=1.2, zorder=1)
draw(ax, *half_daily(a0_lo, a0_hi), GREEN, lw=1.1)
draw(ax, *half_daily(a5_lo, a5_hi), GREY, lw=1.2)
draw(ax, *half_daily(a15_lo, a15_hi), 'black', lw=1.2)
hand_c = [Line2D([], [], color=c, lw=1.3) for c in [GREEN, GREY, 'black']]
lab_c = ['A: 0 cm', 'A: 5 cm', 'A: 15 cm']

# (d)
ax = axes[3]
ax.axhline(0, color='0.75', ls=dash, lw=1.2, zorder=1)
draw(ax, *half_daily(b0_lo, b0_hi), GREEN, lw=1.2)
draw(ax, *half_daily(b5_lo, b5_hi), GREY, lw=1.2)
draw(ax, *half_daily(b15_lo, b15_hi), 'black', lw=1.2)
hand_d = [Line2D([], [], color=c, lw=1.3) for c in [GREEN, GREY, 'black']]
lab_d = ['B: 0 cm', 'B: 5 cm', 'B: 15 cm']

for ax in axes[2:4]:
    ax.set_ylim(-2, 2)
    ax.yaxis.set_major_locator(MultipleLocator(1))
    ax.yaxis.set_minor_locator(MultipleLocator(0.5))

# (e)
ax = axes[4]
gt = start + pd.to_timedelta(glide_days, unit='D')
draw(ax, gt, g1, DBLUE, lw=1.3)
draw(ax, gt, g2, LBLUE, lw=1.3)
draw(ax, gt, g3, 'black', lw=1.2, ls=dash)
draw(ax, gt, g4, '#c8c8c8', lw=1.2, ls=dash)
ax.set_ylim(0, 700)
ax.yaxis.set_major_locator(MultipleLocator(100))
ax.yaxis.set_minor_locator(MultipleLocator(50))
hand_e = [Line2D([], [], color=DBLUE, lw=1.3), Line2D([], [], color=LBLUE, lw=1.3),
          Line2D([], [], color='black', lw=1.2, ls=dash),
          Line2D([], [], color='#c8c8c8', lw=1.2, ls=dash)]
lab_e = ['G1', 'G2', 'G3', 'G4']

# (f)
ax = axes[5]
draw(ax, days, fa5, DBLUE, lw=1.3)
draw(ax, days, fa15, LBLUE, lw=1.3)
draw(ax, days, fb5, DBLUE, lw=1.3, ls=dash)
draw(ax, days, fb15, LBLUE, lw=1.3, ls=dash)
ax.set_ylim(0, 0.6)
ax.yaxis.set_major_locator(MultipleLocator(0.1))
ax.yaxis.set_minor_locator(MultipleLocator(0.05))
ax.yaxis.set_major_formatter(FormatStrFormatter('%.1f'))
hand_f = [Line2D([], [], color=DBLUE, lw=1.3), Line2D([], [], color=LBLUE, lw=1.3),
          Line2D([], [], color=DBLUE, lw=1.3, ls=dash),
          Line2D([], [], color=LBLUE, lw=1.3, ls=dash)]
lab_f = ['A: 5 cm', 'A: 15 cm', 'B: 5 cm', 'B: 15 cm']

# (g)
ax = axes[6]
draw(ax, days, ga0, DBLUE, lw=1.3)
draw(ax, days, gb0, DBLUE, lw=1.3, ls=(0, (6, 4)))
ax.set_ylim(0, 0.2)
ax.yaxis.set_major_locator(MultipleLocator(0.05))
ax.yaxis.set_major_formatter(FormatStrFormatter('%.2f'))
hand_g = [Line2D([], [], color=DBLUE, lw=1.3), Line2D([], [], color=DBLUE, lw=1.3, ls=(0, (6, 4)))]
lab_g = ['A: 0 cm', 'B: 0 cm']

handles = [hand_a, hand_b, hand_c, hand_d, hand_e, hand_f, hand_g]
labels = [lab_a, lab_b, lab_c, lab_d, lab_e, lab_f, lab_g]
leg_y = [0.928, 0.815, 0.822, 0.828, 0.933, 0.917, 0.844]
ylabels = ['Snow depth (cm)', 'Temperature (°C)', 'Temperature (°C)', 'Temperature (°C)',
           'Cumulative glide ( cm)', 'VLWC (–)', 'VLWC (–)']
letters = 'abcdefg'

for i, ax in enumerate(axes):
    for ev in events:
        ax.axvline(pd.Timestamp(ev), color='black', lw=1.2, ls=(0, (4, 3)), zorder=1.5)
    ax.set_xlim(xmin, xmax)
    ax.xaxis.set_major_locator(mdates.MonthLocator())
    ax.xaxis.set_major_formatter(mdates.DateFormatter('%b'))
    ax.xaxis.set_minor_locator(mdates.DayLocator())
    ax.tick_params(which='both', direction='in', top=True, right=True, labelsize=12)
    ax.tick_params(which='major', length=7, width=1.0, pad=5)
    ax.tick_params(which='minor', length=3.5, width=0.9)
    ax.set_xlabel('')
    ax.set_ylabel(ylabels[i], fontsize=13)
    ax.yaxis.set_label_coords(-0.043, 0.5)
    ax.text(0.016, 0.125, '(%s)' % letters[i], transform=ax.transAxes, fontsize=16,
            va='center', ha='left')
    ax.legend(handles[i], labels[i], loc='upper left', bbox_to_anchor=(0.02, leg_y[i]),
              frameon=False, fontsize=13, handlelength=1.1, handletextpad=0.7,
              labelspacing=0.02, borderpad=0, borderaxespad=0)

axes[6].set_xlabel('Winter 2010–2011', fontsize=12, labelpad=1)

fig.savefig('out.png', dpi=100)
